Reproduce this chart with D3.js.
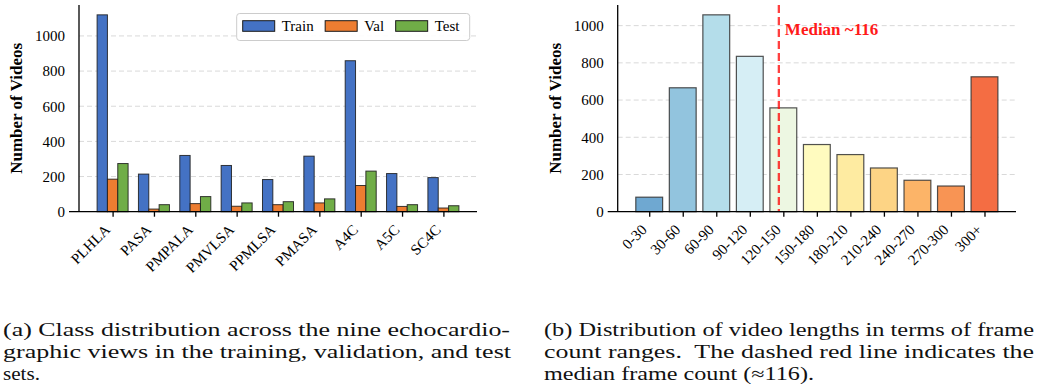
<!DOCTYPE html>
<html>
<head>
<meta charset="utf-8">
<script src="https://cdn.jsdelivr.net/npm/d3@7"></script>
<style>
  body { margin: 0; background: #fff; }
  svg { display: block; }
  svg text { font-family: "Liberation Serif", "Times New Roman", serif; }
</style>
</head>
<body>
<div id="figure"></div>
<script>
// #############################################################
// DATA
// #############################################################

// (a) class distribution per echo view
var views = ["PLHLA", "PASA", "PMPALA", "PMVLSA", "PPMLSA", "PMASA", "A4C", "A5C", "SC4C"];
var trainCounts = [1120, 214, 320, 263, 183, 316, 859, 217, 194];
var valCounts = [185, 15, 46, 31, 40, 50, 149, 30, 21];
var testCounts = [274, 40, 86, 50, 57, 73, 231, 40, 34];
var splitNames = ["Train", "Val", "Test"];
var splitColors = ["#4472C4", "#ED7D31", "#70AD47"];

// (b) video length distribution
var frameRanges = ["0-30", "30-60", "60-90", "90-120", "120-150", "150-180", "180-210", "210-240", "240-270", "270-300", "300+"];
var rangeCounts = [78, 666, 1058, 835, 558, 361, 307, 235, 169, 138, 725];
var rangeColors = ["#6FA8D1", "#92C4DE", "#B4DDEA", "#D6EEF5", "#EDF7E2", "#FFFBBF", "#FEEBA1", "#FDD485", "#FCB468", "#F89454", "#F46D43"];
var medianFrames = 116;
var binSize = 30;

var yTicks = [0, 200, 400, 600, 800, 1000];

// captions
var captionA = ["(a) Class distribution across the nine echocardio-",
                "graphic views in the training, validation, and test",
                "sets."];
var captionB = ["(b) Distribution of video lengths in terms of frame",
                "count ranges.  The dashed red line indicates the",
                "median frame count (\u2248116)."];

// #############################################################
// CANVAS
// #############################################################
var W = 1037, H = 391;
var svg = d3.select("#figure").append("svg")
    .attr("width", W)
    .attr("height", H);

var baseY = 211.7, topY = 5;

// matplotlib style x limits: bar extent padded by 5%
function paddedDomain(lo, hi) {
    var pad = (hi - lo) * 0.05;
    return [lo - pad, hi + pad];
}

// shared axis drawing
function drawAxes(g, x, y, cats, x0, x1) {
    // grid
    g.append("g").selectAll("line")
        .data(yTicks.filter(d => d > 0))
        .enter().append("line")
        .attr("x1", x0).attr("x2", x1)
        .attr("y1", d => y(d)).attr("y2", d => y(d))
        .attr("stroke", "#d9d9d9")
        .attr("stroke-width", 1)
        .attr("stroke-dasharray", "5,3");

    var yAxis = d3.axisLeft(y).tickValues(yTicks).tickFormat(d3.format("d")).tickSize(0).tickPadding(14);
    var gy = g.append("g")
        .attr("class", "yAxis")
        .attr("transform", "translate(" + x0 + ",0)")
        .call(yAxis);
    gy.select(".domain").remove();
    gy.selectAll("text")
        .attr("font-size", 15)
        .attr("fill", "#000");

    var xAxis = d3.axisBottom(x)
        .tickValues(d3.range(cats.length))
        .tickFormat(i => cats[i])
        .tickSize(5)
        .tickSizeOuter(0);
    var gx = g.append("g")
        .attr("class", "xAxis")
        .attr("transform", "translate(0," + baseY + ")")
        .call(xAxis);
    gx.select(".domain").remove();
    gx.selectAll(".tick line").attr("stroke", "#000").attr("stroke-width", 1.3);
    gx.selectAll(".tick text")
        .attr("font-size", 15)
        .attr("fill", "#000")
        .attr("text-anchor", "end")
        .attr("dy", null)
        .attr("y", null)
        .attr("transform", "translate(-2,19) rotate(-45)");
}

function drawSpines(g, x0, x1) {
    g.append("line")
        .attr("x1", x0).attr("x2", x0)
        .attr("y1", topY).attr("y2", baseY)
        .attr("stroke", "#000").attr("stroke-width", 1.3);
    g.append("line")
        .attr("x1", x0 - 10).attr("x2", x1)
        .attr("y1", baseY).attr("y2", baseY)
        .attr("stroke", "#000").attr("stroke-width", 1.3);
}

function yLabel(g, xPos) {
    g.append("text")
        .attr("transform", "translate(" + xPos + "," + ((topY + baseY) / 2) + ") rotate(-90)")
        .attr("text-anchor", "middle")
        .attr("dominant-baseline", "central")
        .attr("font-size", 17)
        .attr("font-weight", "bold")
        .text("Number of Videos");
}

// #############################################################
// PART I. CLASS DISTRIBUTION (a)
// #############################################################
var gA = svg.append("g");
var axL = 79, axR = 477;
var barW = 0.25;
var offsets = [-barW, 0, barW];
var series = [trainCounts, valCounts, testCounts];

var xA = d3.scaleLinear()
    .domain(paddedDomain(offsets[0] - barW / 2, views.length - 1 + offsets[2] + barW / 2))
    .range([axL, axR]);
var yA = d3.scaleLinear()
    .domain([0, d3.max(trainCounts) * 1.05])
    .range([baseY, topY]);

drawAxes(gA, xA, yA, views, axL, axR);

series.forEach(function(vals, s) {
    gA.append("g").selectAll("rect")
        .data(vals)
        .enter().append("rect")
        .attr("x", (d, i) => xA(i + offsets[s] - barW / 2))
        .attr("width", xA(barW) - xA(0))
        .attr("y", d => yA(d))
        .attr("height", d => yA(0) - yA(d))
        .attr("fill", splitColors[s])
        .attr("stroke", "#1a1a1a")
        .attr("stroke-opacity", 0.85)
        .attr("stroke-width", 1);
});

drawSpines(gA, axL, axR);
yLabel(gA, 16.7);

// legend
var legend = gA.append("g");
legend.append("rect")
    .attr("x", 236.7).attr("y", 13.5)
    .attr("width", 233).attr("height", 27)
    .attr("rx", 3)
    .attr("fill", "#fff").attr("fill-opacity", 0.9)
    .attr("stroke", "#cccccc").attr("stroke-width", 1);
var cur = 242.7;
splitNames.forEach(function(name, s) {
    legend.append("rect")
        .attr("x", cur).attr("y", 20.7)
        .attr("width", 32).attr("height", 10.6)
        .attr("fill", splitColors[s])
        .attr("stroke", "#1a1a1a").attr("stroke-width", 1);
    var t = legend.append("text")
        .attr("x", cur + 39).attr("y", 31)
        .attr("font-size", 15)
        .text(name);
    cur = cur + 39 + t.node().getComputedTextLength() + 11.5;
});

// #############################################################
// PART II. VIDEO LENGTH DISTRIBUTION (b)
// #############################################################
var gB = svg.append("g");
var bxL = 617.7, bxR = 1016;
var binW = 0.8;

var xB = d3.scaleLinear()
    .domain(paddedDomain(-binW / 2, frameRanges.length - 1 + binW / 2))
    .range([bxL, bxR]);
var yB = d3.scaleLinear()
    .domain([0, d3.max(rangeCounts) * 1.05])
    .range([baseY, topY]);

drawAxes(gB, xB, yB, frameRanges, bxL, bxR);

gB.append("g").selectAll("rect")
    .data(rangeCounts)
    .enter().append("rect")
    .attr("x", (d, i) => xB(i - binW / 2))
    .attr("width", xB(binW) - xB(0))
    .attr("y", d => yB(d))
    .attr("height", d => yB(0) - yB(d))
    .attr("fill", (d, i) => rangeColors[i])
    .attr("stroke", "#333")
    .attr("stroke-opacity", 0.85)
    .attr("stroke-width", 1.2);

// median marker
var medPos = medianFrames / binSize;
gB.append("line")
    .attr("x1", xB(medPos)).attr("x2", xB(medPos))
    .attr("y1", topY).attr("y2", baseY)
    .attr("stroke", "red")
    .attr("stroke-opacity", 0.75)
    .attr("stroke-width", 2.3)
    .attr("stroke-dasharray", "8,4");
gB.append("text")
    .attr("x", xB(medPos) + 6)
    .attr("y", yB(950))
    .attr("font-size", 17)
    .attr("font-weight", "bold")
    .attr("fill", "#ff1a1a")
    .text("Median ~" + medianFrames);

drawSpines(gB, bxL, bxR);
yLabel(gB, 555);

// #############################################################
// PART III. CAPTIONS (justified, glyphs widened a bit like CM)
// #############################################################
function caption(lines, x0, widths) {
    lines.forEach(function(line, i) {
        var t = svg.append("text")
            .attr("x", x0)
            .attr("y", 336 + i * 22)
            .attr("font-size", 18)
            .attr("fill", "#111")
            .attr("xml:space", "preserve")
            .text(line);
        t.attr("textLength", widths[i]).attr("lengthAdjust", "spacingAndGlyphs");
    });
}
caption(captionA, 3, [507, 508, 37]);
caption(captionB, 544, [490, 490, 270]);
</script>
</body>
</html>
